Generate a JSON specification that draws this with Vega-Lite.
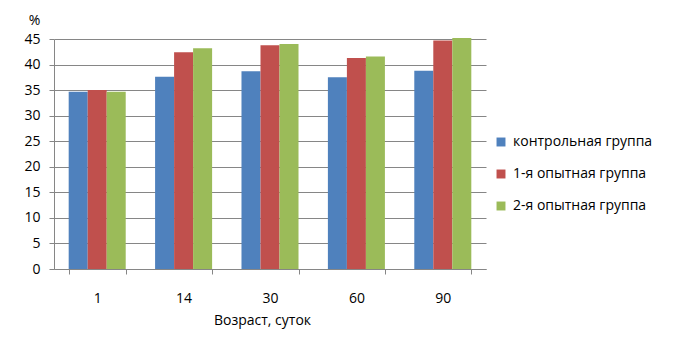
{
  "$schema": "https://vega.github.io/schema/vega-lite/v6.json",
  "autosize": {"type": "none"},
  "width": 432,
  "height": 230,
  "padding": {"left": 54, "top": 39, "right": 197, "bottom": 77},
  "background": "white",
  "config": {
    "font": "Open Sans",
    "view": {"stroke": null},
    "axis": {"labelFont": "Open Sans", "titleFont": "Open Sans", "labelColor": "#000000", "titleColor": "#000000", "titleFontWeight": "normal"}
  },
  "data": {
    "values": [
      {"age": "1", "group": "контрольная группа", "value": 34.7},
      {"age": "1", "group": "1-я опытная группа", "value": 35.0},
      {"age": "1", "group": "2-я опытная группа", "value": 34.7},
      {"age": "14", "group": "контрольная группа", "value": 37.6},
      {"age": "14", "group": "1-я опытная группа", "value": 42.4},
      {"age": "14", "group": "2-я опытная группа", "value": 43.2},
      {"age": "30", "group": "контрольная группа", "value": 38.7},
      {"age": "30", "group": "1-я опытная группа", "value": 43.8},
      {"age": "30", "group": "2-я опытная группа", "value": 44.0},
      {"age": "60", "group": "контрольная группа", "value": 37.5},
      {"age": "60", "group": "1-я опытная группа", "value": 41.3},
      {"age": "60", "group": "2-я опытная группа", "value": 41.6},
      {"age": "90", "group": "контрольная группа", "value": 38.8},
      {"age": "90", "group": "1-я опытная группа", "value": 44.7},
      {"age": "90", "group": "2-я опытная группа", "value": 45.2}
    ]
  },
  "mark": {"type": "bar"},
  "encoding": {
    "x": {
      "field": "age",
      "type": "ordinal",
      "sort": ["1", "14", "30", "60", "90"],
      "scale": {"paddingInner": 0.34, "paddingOuter": 0.17},
      "axis": {
        "title": "Возраст, суток",
        "labelAngle": 0,
        "labelFontSize": 14,
        "titleFontSize": 14,
        "labelPadding": 17,
        "titlePadding": 8,
        "tickBand": "extent",
        "tickSize": 5,
        "tickColor": "#868686",
        "domainColor": "#868686",
        "titleX": 208
      }
    },
    "xOffset": {
      "field": "group",
      "type": "nominal",
      "sort": ["контрольная группа", "1-я опытная группа", "2-я опытная группа"]
    },
    "y": {
      "field": "value",
      "type": "quantitative",
      "scale": {"domain": [0, 45]},
      "axis": {
        "title": "%",
        "titleAngle": 0,
        "titleAlign": "center",
        "titleBaseline": "middle",
        "titleX": -20,
        "titleY": -19,
        "titleFontSize": 14,
        "values": [0, 5, 10, 15, 20, 25, 30, 35, 40, 45],
        "labelFontSize": 14,
        "labelPadding": 9,
        "tickSize": 5,
        "tickColor": "#868686",
        "domainColor": "#868686",
        "gridColor": "#868686",
        "grid": true
      }
    },
    "color": {
      "field": "group",
      "type": "nominal",
      "sort": ["контрольная группа", "1-я опытная группа", "2-я опытная группа"],
      "scale": {"range": ["#4F81BD", "#C0504D", "#9BBB59"]},
      "legend": {
        "title": null,
        "orient": "none",
        "legendX": 440,
        "legendY": 96,
        "symbolType": "square",
        "symbolSize": 80,
        "symbolStrokeWidth": 0,
        "labelFontSize": 14,
        "labelFont": "Open Sans",
        "labelColor": "#000000",
        "labelLimit": 300,
        "rowPadding": 18,
        "labelOffset": 5
      }
    }
  }
}
